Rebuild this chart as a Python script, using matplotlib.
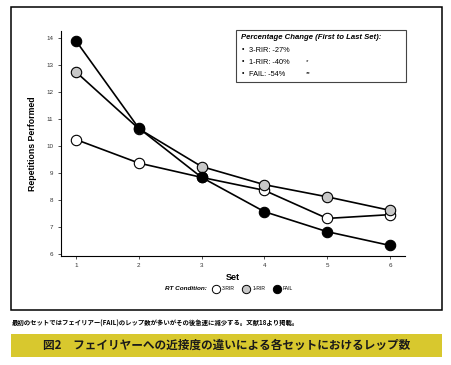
import matplotlib
matplotlib.use("Agg")
import matplotlib.pyplot as plt
from matplotlib.lines import Line2D
from matplotlib.patches import Rectangle

# ── data ─────────────────────────────────────────────────────────────────────
sets      = [1, 2, 3, 4, 5, 6]
rir3      = [10.25, 9.38, 8.85, 8.37, 7.33, 7.47]
rir1      = [12.75, 10.65, 9.25, 8.58, 8.13, 7.63]
fail      = [13.90, 10.67, 8.85, 7.58, 6.84, 6.33]
y_ticks   = [6, 7, 8, 9, 10, 11, 12, 13, 14]
conds     = ["3-RIR", "1-RIR", "FAIL"]
pct_lines = ["3-RIR: -27%", "1-RIR: -40%", "FAIL: -54%"]
pct_marks = ["", "*", "**"]

caption = "最初のセットではフェイリアー(FAIL)のレップ数が多いがその後急速に減少する。文献18より掲載。"
title   = "図2\u3000フェイリヤーへの近接度の違いによる各セットにおけるレップ数"

EN  = ["Liberation Sans", "DejaVu Sans"]
JP  = ["Noto Sans CJK JP", "DejaVu Sans"]
fills = ["white", "#c8c8c8", "black"]

W, H = 452, 365
fig = plt.figure(figsize=(W / 100, H / 100), dpi=100)

# ── outer frame of the figure panel ──────────────────────────────────────────
fig.patches.append(Rectangle((11 / W, 1 - 310 / H), 431 / W, 303 / H,
                             transform=fig.transFigure, fill=False,
                             edgecolor="black", lw=1.1))

ax = fig.add_axes([61 / W, 1 - 255.7 / H, 344 / W, 224.7 / H])
for vals, fc in zip([rir3, rir1, fail], fills):
    ax.plot(sets, vals, color="black", lw=1.2, marker="o", ms=7.5,
            mfc=fc, mec="black", mew=0.8, zorder=3)

ax.set_xlim(0.76, 6.24)
ax.set_ylim(5.95, 14.27)
ax.set_xticks(sets)
ax.set_yticks(y_ticks)
ax.tick_params(labelsize=4.5, length=2.5, width=0.6, pad=3, colors="#333333")
for lbl in ax.get_xticklabels() + ax.get_yticklabels():
    lbl.set_family(EN)
for side in ["top", "right"]:
    ax.spines[side].set_visible(False)
for side in ["left", "bottom"]:
    ax.spines[side].set_linewidth(0.8)
ax.set_xlabel("Set", family=EN, fontsize=6.5, fontweight="bold", labelpad=3)
ax.set_ylabel("Repetitions Performed", family=EN, fontsize=6.3,
              fontweight="bold", labelpad=7)

# ── percentage-change box ────────────────────────────────────────────────────
fig.patches.append(Rectangle((236 / W, 1 - 82 / H), 170 / W, 52 / H,
                             transform=fig.transFigure, fill=False,
                             edgecolor="#444444", lw=0.8))
fig.text(241 / W, 1 - 37.5 / H, "Percentage Change (First to Last Set):",
         family=EN, fontsize=5.6, fontweight="bold", style="italic",
         va="center")
for i, (line, mark) in enumerate(zip(pct_lines, pct_marks)):
    yy = 1 - (50 + 12 * i) / H
    fig.text(242 / W, yy, "•", family=EN, fontsize=5, va="center")
    fig.text(249 / W, yy, line, family=EN, fontsize=5.3, va="center")
    fig.text(306 / W, yy, mark, family=EN, fontsize=4.5, va="center")

# ── legend row ───────────────────────────────────────────────────────────────
fig.text(207 / W, 1 - 289 / H, "RT Condition:", family=EN, fontsize=4.6,
         fontweight="bold", style="italic", ha="right", va="center")
handles = [Line2D([], [], ls="none", marker="o", ms=6, mfc=fc, mec="black",
                  mew=0.7) for fc in fills]
fig.legend(handles, conds, ncol=3, loc="center left",
           bbox_to_anchor=(211.5 / W, 1 - 289 / H), frameon=False,
           prop={"family": EN, "size": 3.6}, handlelength=1.8,
           handletextpad=0.3, columnspacing=1.4, borderpad=0,
           borderaxespad=0)

# ── caption + yellow title band ──────────────────────────────────────────────
fig.text(12 / W, 1 - 323.5 / H, caption, family=JP, fontsize=4.6,
         fontweight="bold", va="center")
fig.patches.append(Rectangle((11 / W, 1 - 357 / H), 431 / W, 23 / H,
                             transform=fig.transFigure, facecolor="#d8c82e",
                             edgecolor="none"))
fig.text(226.5 / W, 1 - 345.5 / H, title, family=JP, fontsize=8.4,
         fontweight="bold", ha="center", va="center", color="#1a1a1a")

fig.savefig("out.png", dpi=100)
